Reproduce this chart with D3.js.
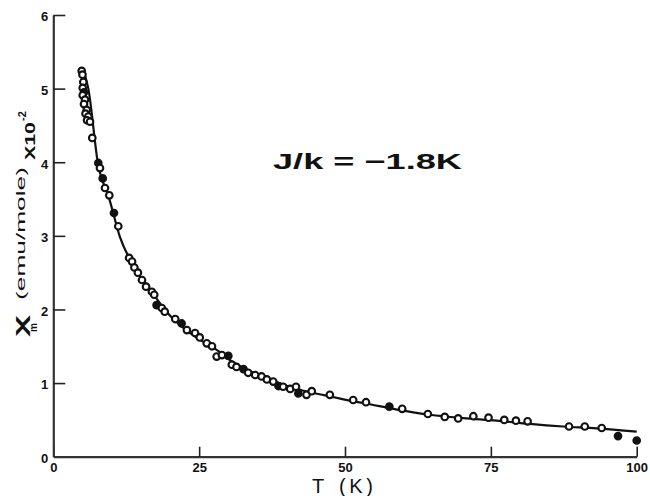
<!DOCTYPE html>
<html>
<head>
  <meta charset="utf-8">
  <title>Xm vs T</title>
  <script src="https://d3js.org/d3.v7.min.js"></script>
  <style>
    html, body { margin: 0; padding: 0; background: #fff; }
    svg { display: block; }
    .tick text { font: bold 13px "Liberation Sans", Arial, sans-serif; fill: #111; }
    .tick line { stroke: #222; stroke-width: 1.6px; }
    .domain { stroke: #333; stroke-width: 2.2px; }
  </style>
</head>
<body>
  <svg width="650" height="496"></svg>
  <script>
    // measured points (T in K, Xm in 1e-2 emu/mole)
    const tempK = [4.87, 5.0, 5.14, 5.04, 5.26, 5.04, 5.43, 5.26, 5.73, 5.52, 6.0, 5.78, 6.29, 6.68,
      7.71, 8.0, 8.47, 8.86, 9.6, 10.4, 11.14, 13.0, 13.5, 13.9, 14.5, 15.2, 15.9,
      16.9, 17.3, 17.7, 18.6, 19.1, 20.9, 22.0, 22.9, 24.3, 25.1, 26.3, 27.2, 28.0, 28.9, 30.0,
      30.6, 31.4, 32.6, 33.4, 34.6, 35.7, 36.6, 37.7, 38.6, 39.4, 40.6, 41.6, 42.0, 43.4, 44.3, 47.4,
      51.4, 53.6, 57.6, 59.8, 64.2, 67.1, 69.4, 72.0, 74.6, 77.3, 79.3, 81.3, 88.4, 91.1, 94.0, 96.8, 100];
    const chiM = [5.24, 5.19, 5.09, 5.01, 4.95, 4.91, 4.85, 4.79, 4.71, 4.66, 4.62, 4.57, 4.55, 4.33,
      3.99, 3.92, 3.78, 3.65, 3.55, 3.31, 3.13, 2.70, 2.65, 2.57, 2.50, 2.40, 2.31,
      2.24, 2.20, 2.06, 2.02, 1.97, 1.87, 1.81, 1.72, 1.68, 1.62, 1.54, 1.50, 1.36, 1.38, 1.37,
      1.25, 1.22, 1.19, 1.14, 1.11, 1.09, 1.05, 1.02, 0.96, 0.95, 0.92, 0.95, 0.86, 0.84, 0.89, 0.84,
      0.77, 0.74, 0.68, 0.65, 0.58, 0.54, 0.52, 0.55, 0.53, 0.50, 0.49, 0.48, 0.41, 0.41, 0.39, 0.28, 0.22];
    const filledPts = [4, 14, 16, 19, 29, 33, 41, 44, 50, 54, 60, 73, 74];

    // fitted curve
    const fitT = [5.3, 6.0, 7.7, 9.5, 11.4, 14.0, 16.6, 19.4, 22.3, 25.1, 28.0, 30.9, 33.7, 36.6,
      39.4, 42.3, 45.2, 48.0, 50.9, 53.1, 58.9, 64.6, 70.3, 76.0, 81.7, 87.4, 93.1, 100];
    const fitChi = [5.22, 5.0, 3.96, 3.53, 2.99, 2.56, 2.27, 1.97, 1.75, 1.59, 1.45, 1.28, 1.16, 1.07,
      0.98, 0.91, 0.855, 0.81, 0.76, 0.73, 0.64, 0.57, 0.525, 0.49, 0.445, 0.41, 0.385, 0.34];

    const xTicks = [0, 25, 50, 75, 100];
    const yTicks = [0, 1, 2, 3, 4, 5, 6];

    const svg = d3.select("svg");
    const x = d3.scaleLinear().domain([0, 100]).range([53.3, 636.7]);
    const y = d3.scaleLinear().domain([0, 6]).range([456.7, 15]);

    svg.append("g")
      .attr("transform", "translate(0,456.7)")
      .call(d3.axisBottom(x).tickValues(xTicks).tickFormat(d3.format("d"))
        .tickSizeInner(-10).tickSizeOuter(0).tickPadding(6));

    const ya = svg.append("g")
      .attr("transform", "translate(53.3,0)")
      .call(d3.axisLeft(y).tickValues(yTicks).tickFormat(d3.format("d"))
        .tickSizeInner(-12).tickSizeOuter(0).tickPadding(5));
    ya.selectAll(".tick text").attr("dy", "0.45em");
    ya.selectAll(".tick").filter(d => d === 0).select("line").remove();

    // fit curve
    const line = d3.line().x(d => x(d[0])).y(d => y(d[1])).curve(d3.curveMonotoneX);
    svg.append("path")
      .datum(fitT.map((t, i) => [t, fitChi[i]]))
      .attr("d", line)
      .attr("fill", "none")
      .attr("stroke", "#111")
      .attr("stroke-width", 2.2);

    // data points
    svg.append("g").selectAll("circle")
      .data(tempK.map((t, i) => ({ t: t, v: chiM[i], f: filledPts.includes(i) })))
      .enter().append("circle")
      .attr("cx", d => x(d.t))
      .attr("cy", d => y(d.v))
      .attr("r", 3.3)
      .attr("fill", d => d.f ? "#111" : "#fff")
      .attr("stroke", "#111")
      .attr("stroke-width", 2.1);

    // annotation
    svg.append("text")
      .attr("x", 273).attr("y", 169)
      .attr("textLength", 189).attr("lengthAdjust", "spacingAndGlyphs")
      .style("font", "bold 22px 'Liberation Sans', Arial, sans-serif")
      .attr("fill", "#111")
      .text("J/k = \u22121.8K");

    // x label
    const xl = svg.append("text")
      .attr("y", 493)
      .style("font", "20px 'Liberation Sans', Arial, sans-serif")
      .attr("fill", "#111");
    xl.append("tspan").attr("x", 312).text("T");
    xl.append("tspan").attr("x", 339).attr("textLength", 34).text("(K)");

    // y label, rotated
    const yl = svg.append("text")
      .attr("transform", "rotate(-90)")
      .attr("fill", "#111")
      .style("font-family", "'Liberation Sans', Arial, sans-serif");
    yl.append("tspan").attr("x", -337).attr("y", 30)
      .style("font-size", "20px").style("font-weight", "bold")
      .attr("textLength", 22).attr("lengthAdjust", "spacingAndGlyphs").text("X");
    yl.append("tspan").attr("x", -332).attr("y", 37)
      .style("font-size", "10px").style("font-weight", "bold").text("m");
    yl.append("tspan").attr("x", -300).attr("y", 25)
      .style("font-size", "13px")
      .attr("textLength", 133).attr("lengthAdjust", "spacingAndGlyphs").text("(emu/mole)");
    yl.append("tspan").attr("x", -160).attr("y", 35)
      .style("font-size", "15px").style("font-weight", "bold")
      .attr("textLength", 38).attr("lengthAdjust", "spacingAndGlyphs").text("X10");
    yl.append("tspan").attr("x", -121).attr("y", 26)
      .style("font-size", "11px").style("font-weight", "bold").text("-2");
  </script>
</body>
</html>
